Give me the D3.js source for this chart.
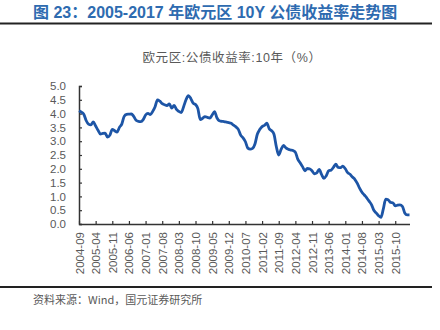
<!DOCTYPE html>
<html><head><meta charset="utf-8">
<script src="https://cdn.jsdelivr.net/npm/d3@7"></script>
<style>
html,body{margin:0;padding:0;background:#fff;}
svg{display:block;font-family:"Liberation Sans","Noto Sans CJK SC",sans-serif;}
</style></head>
<body>
<svg id="c" width="440" height="330"></svg>
<script>
const startMonth = "2004-09";
const yields = [
4.10,4.05,3.98,3.75,3.62,3.59,3.70,3.55,3.40,3.26,
3.28,3.29,3.15,3.22,3.43,3.38,3.33,3.50,3.62,3.90,
3.97,3.98,3.99,3.90,3.76,3.72,3.71,3.78,3.95,4.01,
3.96,4.08,4.25,4.50,4.45,4.36,4.32,4.29,4.35,4.20,
4.30,4.15,4.08,4.04,4.25,4.50,4.65,4.55,4.38,4.33,
4.18,3.78,3.83,3.89,3.86,3.84,3.95,4.07,3.85,3.74,
3.72,3.71,3.69,3.67,3.65,3.58,3.52,3.43,3.22,3.12,
2.98,2.75,2.71,2.74,2.90,3.25,3.42,3.53,3.57,3.65,
3.45,3.38,3.25,2.80,2.50,2.70,2.85,2.76,2.71,2.68,
2.66,2.60,2.35,2.22,2.08,1.93,2.01,2.00,1.93,1.82,
1.85,1.98,1.80,1.65,1.75,1.93,1.95,2.05,2.17,2.05,
2.04,2.10,2.00,1.86,1.80,1.70,1.62,1.48,1.30,1.15,
1.05,0.95,0.83,0.70,0.50,0.40,0.30,0.24,0.55,0.90,
0.88,0.78,0.77,0.66,0.68,0.69,0.64,0.40,0.33,0.33];
const xTickLabels = ["2004-09","2005-04","2005-11","2006-06","2007-01","2007-08","2008-03","2008-10","2009-05","2009-12","2010-07","2011-02","2011-09","2012-04","2012-11","2013-06","2014-01","2014-08","2015-03","2015-10"];
const yTicks = [0,0.5,1,1.5,2,2.5,3,3.5,4,4.5,5];
const titleText = "图 23：2005-2017 年欧元区 10Y 公债收益率走势图";
const chartTitle = "欧元区:公债收益率:10年（%）";
const sourceText = "资料来源：Wind，国元证券研究所";

function monthIndex(s){const [y,m]=s.split("-").map(Number);const [y0,m0]=startMonth.split("-").map(Number);return (y-y0)*12+(m-m0);}

const svg = d3.select("#c");
const x = d3.scaleLinear().domain([0, 139]).range([79, 409.5]);
const y = d3.scaleLinear().domain([0, 5]).range([224, 86]);

// header
svg.append("text").attr("x",33).attr("y",18).attr("fill","#2e6bb0")
  .attr("font-weight","bold").attr("font-size",16)
  .attr("font-family","'Liberation Sans','Noto Sans CJK SC',sans-serif")
  .text(titleText);
svg.append("line").attr("x1",0).attr("x2",432).attr("y1",23.5).attr("y2",23.5).attr("stroke","#222").attr("stroke-width",1.8);

svg.append("text").attr("x",232).attr("y",62).attr("text-anchor","middle").attr("fill","#595959")
  .attr("font-size",12.5).attr("letter-spacing",0.6).text(chartTitle);

// y axis
const yAxis = d3.axisLeft(y).tickValues(yTicks).tickFormat(d3.format(".1f")).tickSize(-3).tickPadding(13);
const gy = svg.append("g").attr("transform","translate(79,0)").call(yAxis);
gy.select(".domain").attr("stroke","#333").attr("stroke-width",1.5);
gy.selectAll(".tick line").attr("stroke","#333").attr("stroke-width",1.2);
gy.selectAll("text").attr("fill","#595959").attr("font-size",11.5).attr("font-family","'Liberation Sans',sans-serif");

// x axis
const xAxis = d3.axisBottom(x).tickValues(xTickLabels.map(monthIndex)).tickFormat((d,i)=>xTickLabels[i]).tickSize(-3).tickSizeOuter(0);
const gx = svg.append("g").attr("transform","translate(0,224)").call(xAxis);
gx.select(".domain").attr("stroke","#333").attr("stroke-width",1.5);
gx.selectAll(".tick line").attr("stroke","#333").attr("stroke-width",1.2);
gx.selectAll("text").attr("fill","#595959").attr("font-size",11.5).attr("font-family","'Liberation Sans',sans-serif")
  .attr("transform","rotate(-90)").attr("text-anchor","end").attr("x",-8).attr("y",0).attr("dy","0.35em");

// line
const line = d3.line().x((d,i)=>x(i)).y(d=>y(d)).curve(d3.curveMonotoneX);
svg.append("path").datum(yields).attr("d",line).attr("fill","none").attr("stroke","#1d55a6").attr("stroke-width",2.8).attr("stroke-linejoin","round");

// footer
svg.append("line").attr("x1",0).attr("x2",432).attr("y1",287).attr("y2",287).attr("stroke","#222").attr("stroke-width",1.8);
svg.append("text").attr("x",33).attr("y",304).attr("fill","#595959").attr("font-size",11)
  .attr("font-family","'Noto Sans CJK SC',sans-serif").text(sourceText);
</script>
</body></html>
